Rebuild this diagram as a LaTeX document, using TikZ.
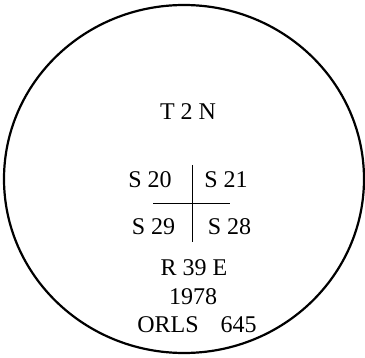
\documentclass[tikz,border=0pt]{standalone}
\usepackage{fontspec}
\setmainfont{Liberation Serif}
\begin{document}
\begin{tikzpicture}[x=1pt,y=-1pt,
  lbl/.style={inner sep=0pt,font=\fontsize{24}{28}\selectfont}]
\useasboundingbox (0,0) rectangle (365,358);
\draw[line width=2.2pt] (184,179) ellipse [x radius=180, y radius=174];
\node[lbl] (t) at (188,112) {T 2 N};
\node[lbl] (s20) at (150,180) {S 20};
\node[lbl] (s21) at (226,180) {S 21};
\node[lbl] (s29) at (153.5,227) {S 29};
\node[lbl] (s28) at (229.5,227) {S 28};
\coordinate (vt) at (192,165);
\coordinate (vb) at (192,242);
\coordinate (hl) at (153,203);
\coordinate (hr) at (230,203);
\draw[line width=0.8pt] (vt) -- (vb);
\draw[line width=0.8pt] (hl) -- (hr);
\node[lbl] (r) at (194,268) {R 39 E};
\node[lbl] (y) at (193,297) {1978};
\node[lbl] (o) at (197,325) {ORLS\hspace{22pt}645};
\end{tikzpicture}
\end{document}
